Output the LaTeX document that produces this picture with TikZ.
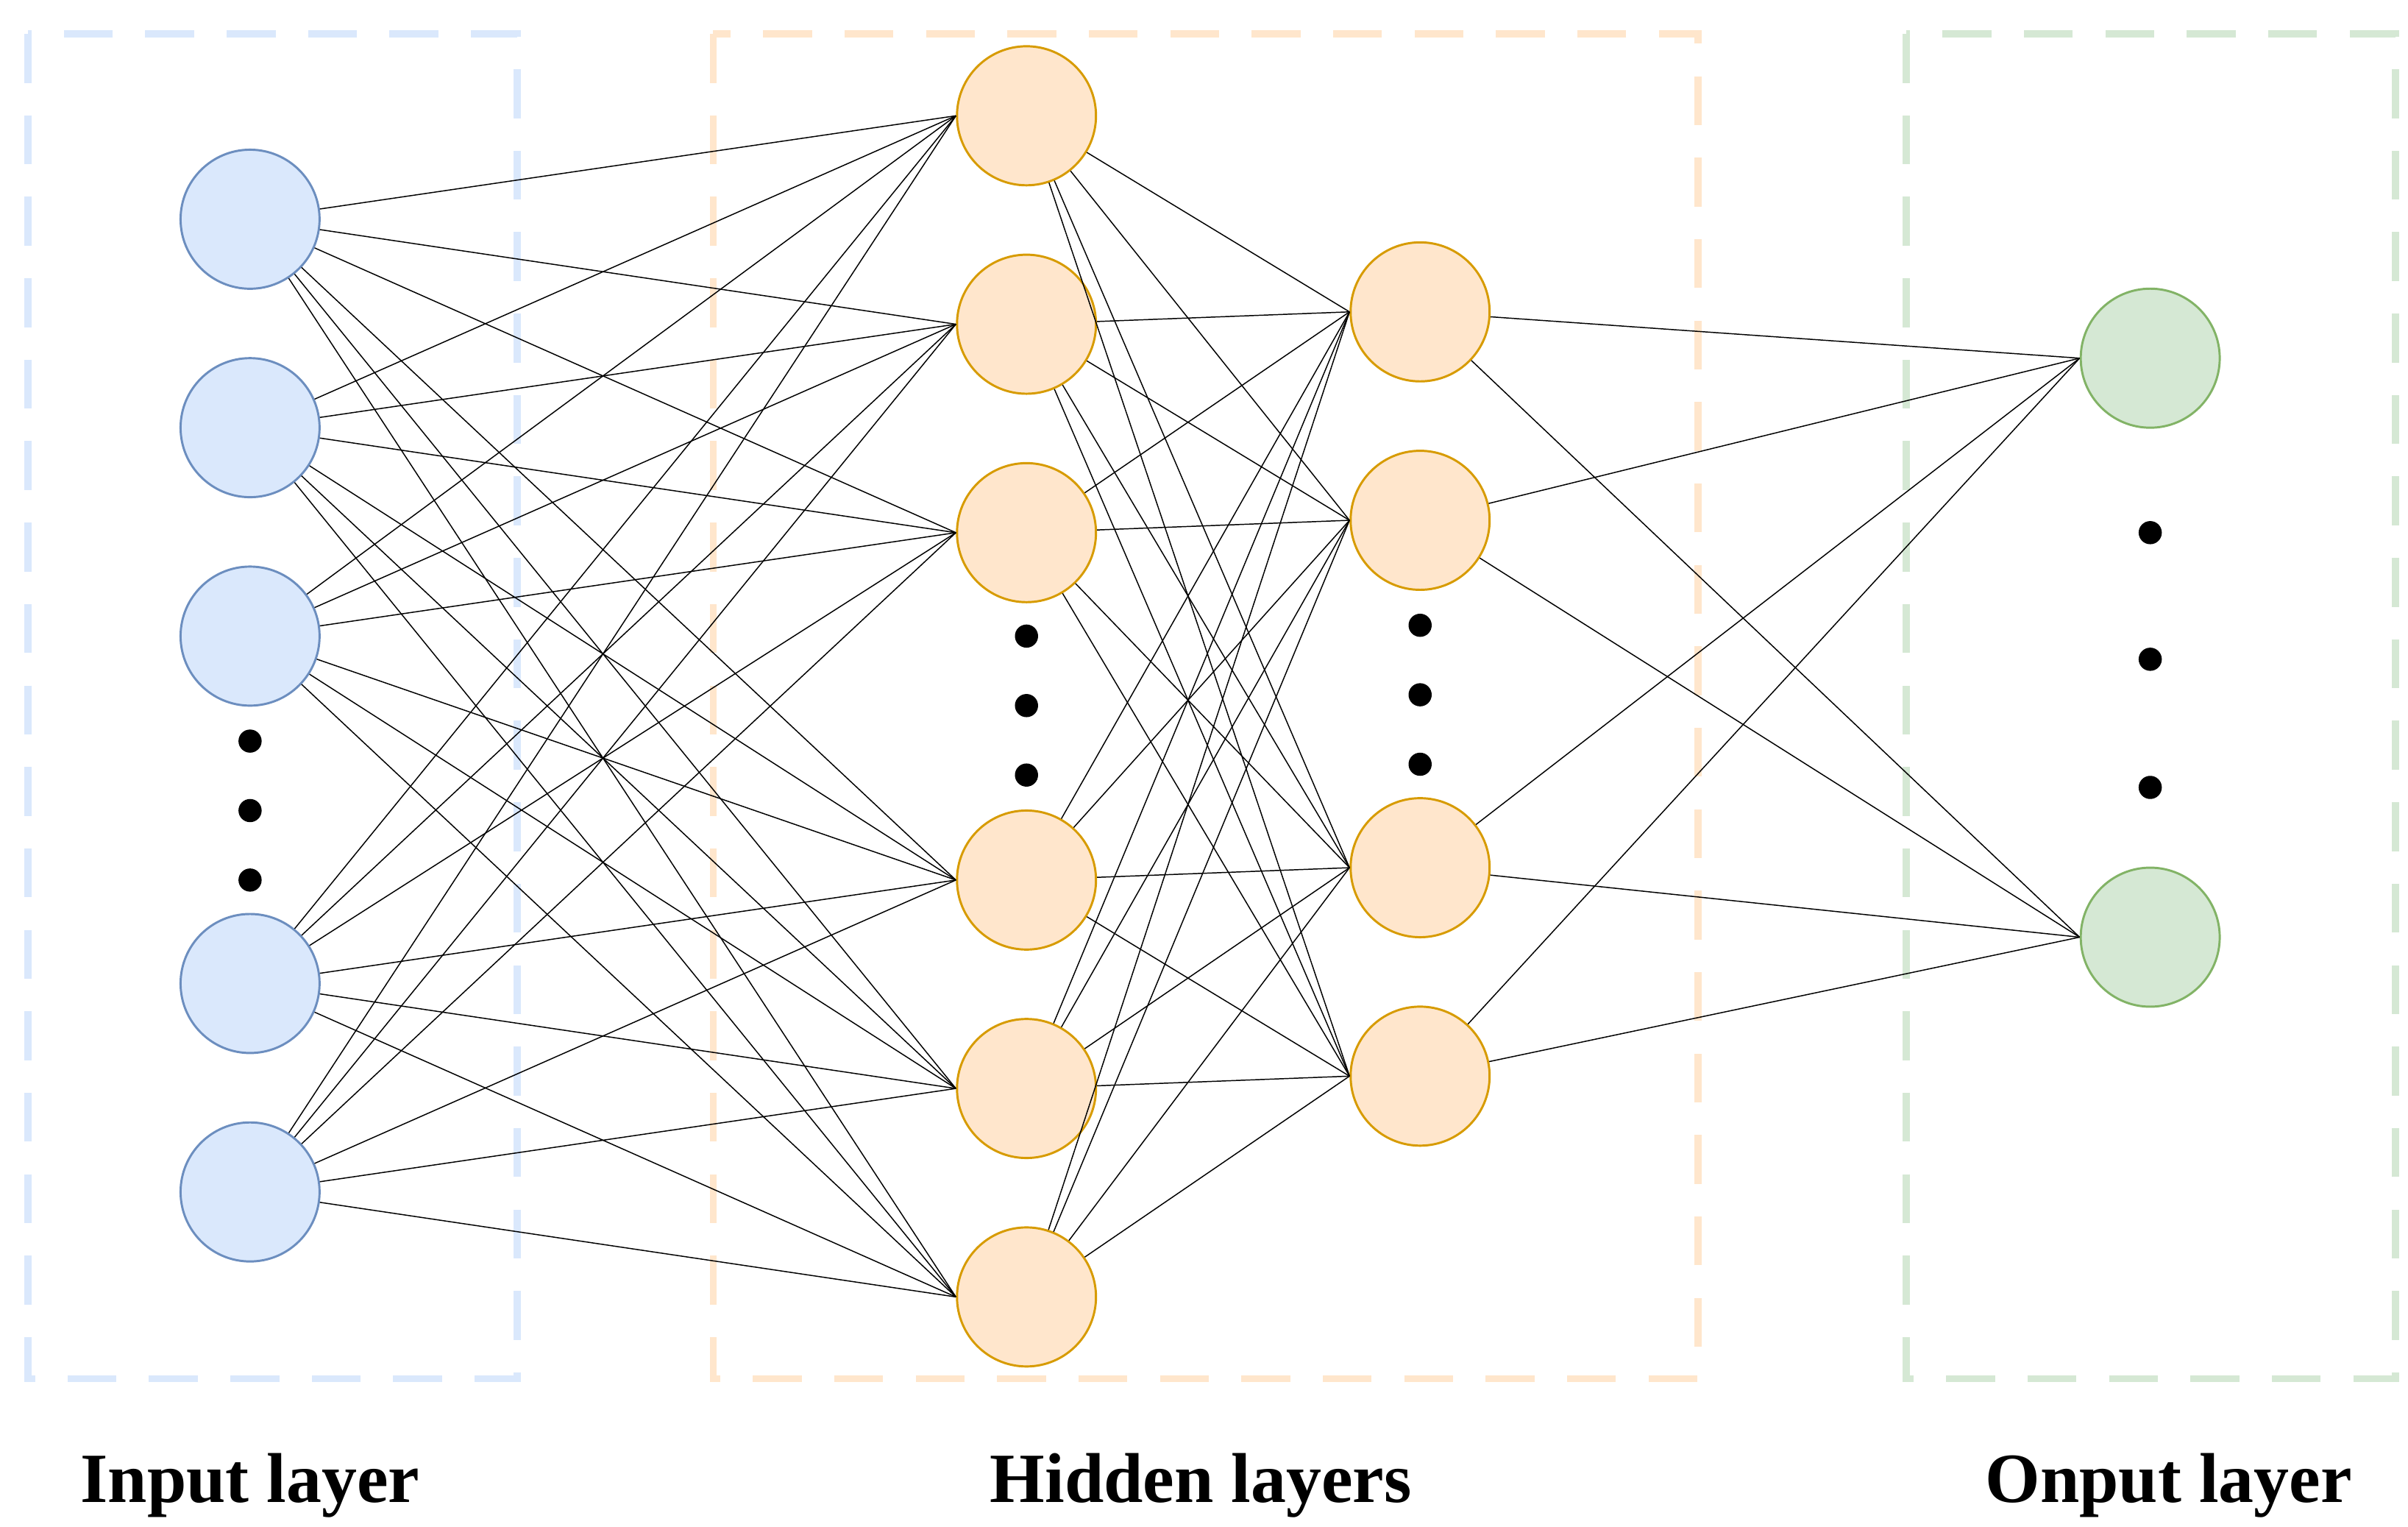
\documentclass[tikz,border=0pt]{standalone}
\usepackage{fontspec}
\setmainfont{Liberation Serif}
\usetikzlibrary{positioning}
\definecolor{inFill}{HTML}{DAE8FC}\definecolor{inDraw}{HTML}{6C8EBF}
\definecolor{hidFill}{HTML}{FFE6CC}\definecolor{hidDraw}{HTML}{D79B00}
\definecolor{outFill}{HTML}{D5E8D4}\definecolor{outDraw}{HTML}{82B366}
\begin{document}
\begin{tikzpicture}[x=0.01cm,y=-0.01cm,
  in node/.style={circle,minimum size=0.9cm,inner sep=0pt,fill=inFill,draw=inDraw,thin},
  hid node/.style={circle,minimum size=0.9cm,inner sep=0pt,fill=hidFill,draw=hidDraw,thin},
  out node/.style={circle,minimum size=0.9cm,inner sep=0pt,fill=outFill,draw=outDraw,thin},
  box/.style={dash pattern=on 9pt off 6pt,line width=1.3pt},
  dot/.style={circle,fill=black,inner sep=0pt,minimum size=0.15cm},
  label/.style={font=\fontsize{13}{15}\selectfont\bfseries}]
	\useasboundingbox (0,0) rectangle (1560,989);

	\draw[box,draw=inFill] (18,22) rectangle (335,893);
	\draw[box,draw=hidFill] (462,22) rectangle (1100,893);
	\draw[box,draw=outFill] (1235,22) rectangle (1552,893);

	% nodes
	\foreach \n/\y in {1/142,2/277,3/412,4/637,5/772}
		\node[in node] (i\n) at (162,\y) {};
	\foreach \n/\y in {1/75,2/210,3/345,4/570,5/705,6/840}
		\node[hid node] (h\n) at (665,\y) {};
	\foreach \n/\y in {1/202,2/337,3/562,4/697}
		\node[hid node] (g\n) at (920,\y) {};
	\foreach \n/\y in {1/232,2/607}
		\node[out node] (o\n) at (1393,\y) {};

	% connections
	\foreach \a in {1,...,5}
		\foreach \b in {1,...,6}
			\draw[very thin] (i\a) -- (h\b.west);
	\foreach \a in {1,...,6}
		\foreach \b in {1,...,4}
			\draw[very thin] (h\a) -- (g\b.west);
	\foreach \a in {1,...,4}
		\foreach \b in {1,2}
			\draw[very thin] (g\a) -- (o\b.west);

	% ellipsis dots
	\foreach \y in {480,525,570} \node[dot] (di\y) at (162,\y) {};
	\foreach \y in {412,457,502} \node[dot] (dh\y) at (665,\y) {};
	\foreach \y in {405,450,495} \node[dot] (dg\y) at (920,\y) {};
	\foreach \y in {345,427,510} \node[dot] (do\y) at (1393,\y) {};

	\node[label] (lin) at (162,962) {Input layer};
	\node[label] (lhid) at (778,962) {Hidden layers};
	\node[label] (lout) at (1405,962) {Onput layer};
\end{tikzpicture}
\end{document}
